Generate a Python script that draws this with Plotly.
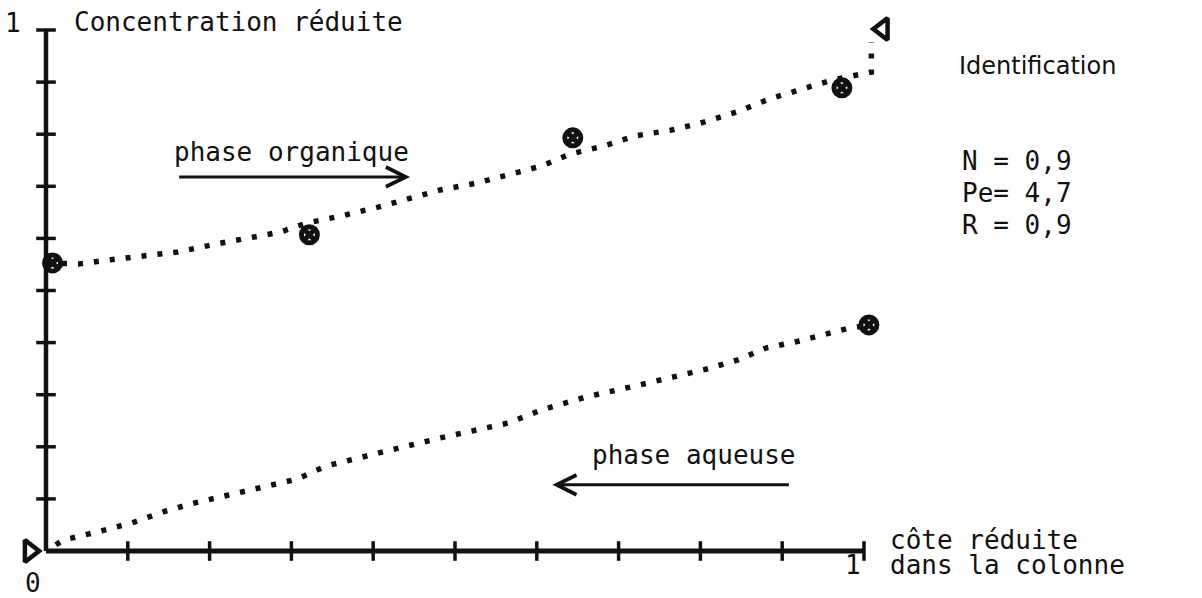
import plotly.graph_objects as go

# Reduced height in the column (x) and reduced concentration (y)
# Organic phase: computed profile (dotted) and measured points
org_x = [0.0, 0.040, 0.079, 0.120, 0.161, 0.207, 0.242, 0.286, 0.320, 0.361,
         0.406, 0.441, 0.482, 0.526, 0.566, 0.606, 0.641, 0.681, 0.721, 0.765,
         0.804, 0.845, 0.885, 0.924, 0.961, 1.009, 1.009]
org_y = [0.553, 0.551, 0.559, 0.566, 0.574, 0.589, 0.599, 0.612, 0.630, 0.643,
         0.660, 0.674, 0.693, 0.706, 0.722, 0.739, 0.762, 0.777, 0.797, 0.808,
         0.823, 0.843, 0.868, 0.887, 0.904, 0.919, 0.977]

org_meas_x = [0.008, 0.322, 0.644, 0.973]
org_meas_y = [0.553, 0.607, 0.793, 0.889]

# Aqueous phase: computed profile (dotted) and measured outlet point
aq_x = [0.012, 0.021, 0.061, 0.105, 0.147, 0.181, 0.222, 0.267, 0.307, 0.342,
        0.386, 0.427, 0.482, 0.527, 0.566, 0.606, 0.661, 0.721, 0.767, 0.807,
        0.846, 0.881, 0.921, 0.961, 0.982, 1.000]
aq_y = [0.012, 0.021, 0.036, 0.054, 0.077, 0.092, 0.107, 0.123, 0.138, 0.163,
        0.179, 0.196, 0.217, 0.232, 0.246, 0.271, 0.296, 0.317, 0.334, 0.349,
        0.367, 0.390, 0.403, 0.420, 0.428, 0.432]

aq_meas_x = [1.006]
aq_meas_y = [0.434]

# Inlet concentrations (open triangles)
inlet_org = (1.023, 1.002)
inlet_aq = (-0.020, 0.0)

# Axis graduations
x_ticks = [0.1, 0.2, 0.3, 0.4, 0.5, 0.6, 0.7, 0.8, 0.9, 1.0]
y_ticks = [0.1, 0.2, 0.3, 0.4, 0.5, 0.6, 0.7, 0.8, 0.9, 1.0]

# Identification parameters
params = ["N = 0,9", "Pe= 4,7", "R = 0,9"]

MONO = "DejaVu Sans Mono"
INK = "#111111"

fig = go.Figure()

# Axes drawn as thick lines through the origin
fig.add_trace(go.Scatter(x=[0, 0], y=[1, 0], mode="lines",
                         line=dict(color=INK, width=4.5), hoverinfo="skip"))
fig.add_trace(go.Scatter(x=[0, 1], y=[0, 0], mode="lines",
                         line=dict(color=INK, width=5), hoverinfo="skip"))

# Tick crosses
fig.add_trace(go.Scatter(x=[0] * len(y_ticks), y=y_ticks, mode="markers",
                         marker=dict(symbol="line-ew", size=14,
                                     line=dict(color=INK, width=3.5)),
                         hoverinfo="skip"))
fig.add_trace(go.Scatter(x=x_ticks, y=[0] * len(x_ticks), mode="markers",
                         marker=dict(symbol="line-ns", size=14,
                                     line=dict(color=INK, width=3.5)),
                         hoverinfo="skip"))

# Dotted profiles
dots = dict(color=INK, width=5.5, dash="5px,11px")
fig.add_trace(go.Scatter(x=org_x, y=org_y, mode="lines", line=dots,
                         name="phase organique"))
fig.add_trace(go.Scatter(x=aq_x, y=aq_y, mode="lines", line=dots,
                         name="phase aqueuse"))

# Measured points: heavy circle with cross
meas_marker = dict(symbol="circle-x-open", size=16, color=INK,
                   line=dict(color=INK, width=5))
fig.add_trace(go.Scatter(x=org_meas_x, y=org_meas_y, mode="markers",
                         marker=meas_marker))
fig.add_trace(go.Scatter(x=aq_meas_x, y=aq_meas_y, mode="markers",
                         marker=meas_marker))

# Inlet triangles
tri = dict(size=19, color=INK, line=dict(color=INK, width=4.5))
fig.add_trace(go.Scatter(x=[inlet_org[0]], y=[inlet_org[1]], mode="markers",
                         marker=dict(symbol="triangle-left-open", **tri)))
fig.add_trace(go.Scatter(x=[inlet_aq[0]], y=[inlet_aq[1]], mode="markers",
                         marker=dict(symbol="triangle-right-open", **tri)))

font = dict(family=MONO, size=26, color=INK)


def label(x, y, text, xanchor="left", **kw):
    fig.add_annotation(x=x, y=y, xref="x", yref="y", text=text,
                       showarrow=False, xanchor=xanchor, yanchor="middle",
                       font=kw.pop("font", font), **kw)


label(-0.040, 1.013, "1", xanchor="center")
label(0.032, 1.015, "Concentration réduite")
label(-0.016, -0.062, "0", xanchor="center")
label(0.986, -0.027, "1", xanchor="center")
label(1.029, 0.021, "côte réduite")
label(1.029, -0.027, "dans la colonne")
label(0.154, 0.766, "phase organique")
label(0.665, 0.184, "phase aqueuse")
label(1.114, 0.931, "Identification",
      font=dict(family="DejaVu Sans", size=24, color=INK))
for i, p in enumerate(params):
    label(1.117, 0.749 - i * 0.062, p)

# Flow direction arrows
arrow = dict(xref="x", yref="y", axref="x", ayref="y", text="",
             showarrow=True, arrowhead=5, arrowsize=1.3, arrowwidth=3,
             arrowcolor=INK)
fig.add_annotation(x=0.445, y=0.718, ax=0.161, ay=0.718, **arrow)
fig.add_annotation(x=0.619, y=0.127, ax=0.910, ay=0.127, **arrow)

fig.update_layout(
    width=1202, height=598,
    margin=dict(l=0, r=0, t=0, b=0),
    paper_bgcolor="white", plot_bgcolor="white",
    showlegend=False,
    xaxis=dict(range=[-46 / 818, 1156 / 818], visible=False, fixedrange=True),
    yaxis=dict(range=[-47 / 521, 551 / 521], visible=False, fixedrange=True),
)

fig.write_html("out.html")
